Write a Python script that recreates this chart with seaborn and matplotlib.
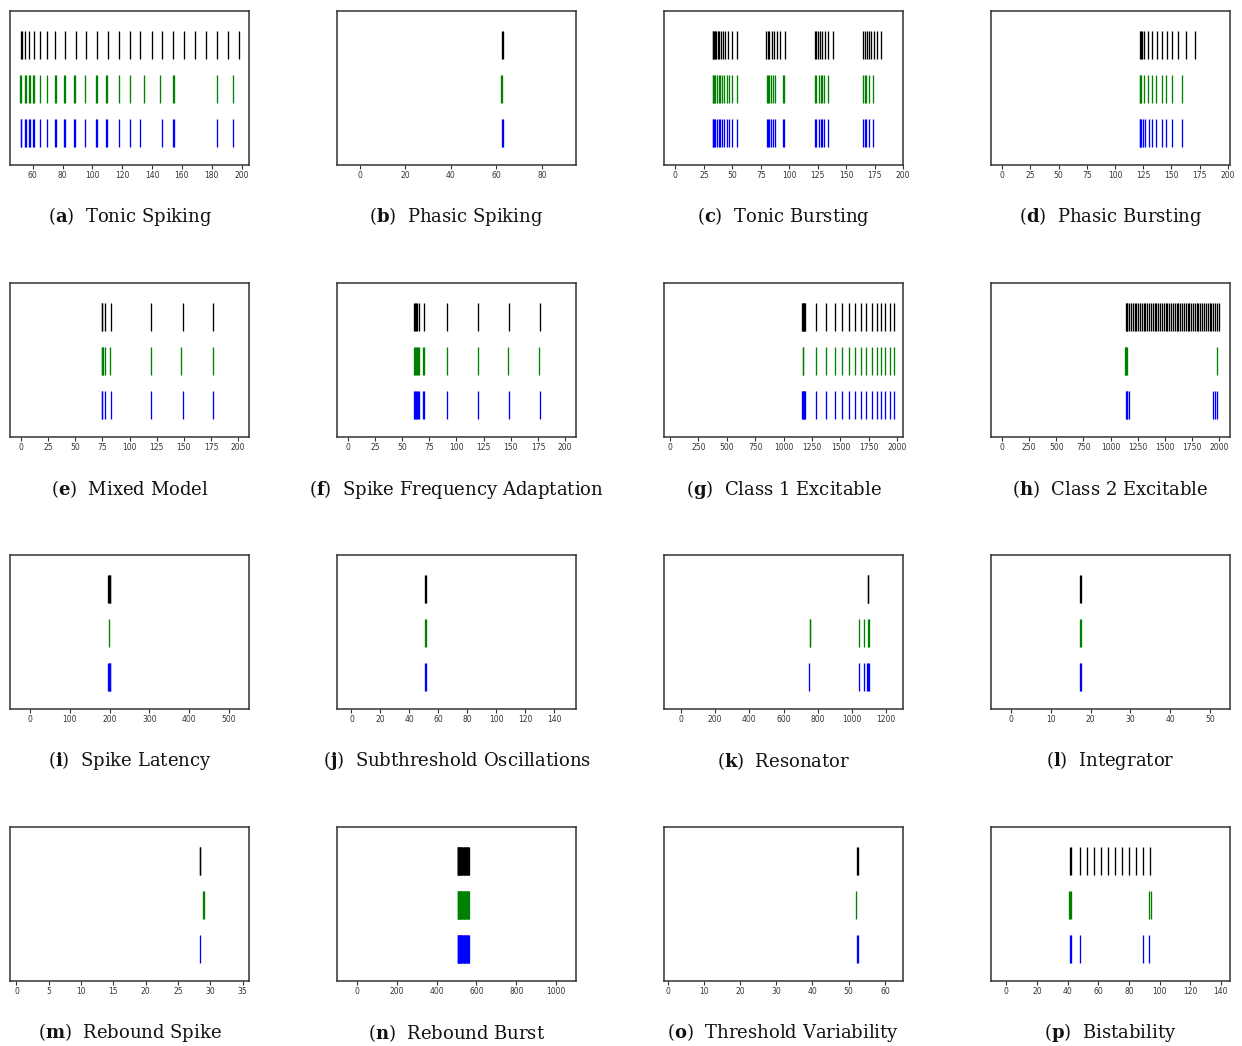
import numpy as np
import pandas as pd
import matplotlib
matplotlib.use("Agg")
import matplotlib.pyplot as plt
import seaborn as sns

# ---------------- data (spike times) ----------------
TITLES = ["Tonic Spiking", "Phasic Spiking", "Tonic Bursting", "Phasic Bursting",
          "Mixed Model", "Spike Frequency Adaptation", "Class 1 Excitable", "Class 2 Excitable",
          "Spike Latency", "Subthreshold Oscillations", "Resonator", "Integrator",
          "Rebound Spike", "Rebound Burst", "Threshold Variability", "Bistability"]
LETTERS = list("abcdefghijklmnop")

A_BLACK = [51.8, 52.5, 54.6, 57.3, 60.9, 64.7, 69.7, 75.1, 81.6, 88.8, 96.0, 103.2, 110.4,
           117.6, 125.0, 132.2, 139.7, 146.9, 154.3, 161.5, 168.9, 176.1, 183.3, 190.8, 198.0]
A_GREEN = [51.3, 51.8, 54.8, 55.5, 57.3, 58.0, 59.8, 60.7, 64.5, 69.2, 74.6, 75.3, 80.9, 81.6,
           87.7, 88.6, 95.3, 102.1, 102.8, 109.1, 110.0, 117.6, 125.0, 134.3, 145.3, 154.3,
           155.0, 183.6, 194.6]
A_BLUE = [51.8, 52.2, 54.8, 55.5, 57.3, 58.0, 59.8, 60.7, 64.5, 69.2, 74.6, 75.3, 80.9, 81.6,
          87.7, 88.6, 95.3, 102.1, 102.8, 109.1, 110.0, 117.6, 125.0, 132.2, 146.9, 154.3,
          155.0, 183.6, 194.6]

B_BLACK = [62.7, 63.0]
B_GREEN = [62.2, 62.5]
B_BLUE = [62.7, 63.0]

C_BLACK = [32.9, 33.4, 33.9, 34.9, 35.9, 37.3, 38.6, 40.3, 41.9, 43.9, 46.6, 49.9, 54.2,
           79.9, 81.2, 82.5, 84.5, 86.5, 88.9, 92.2, 96.2,
           122.5, 123.8, 125.1, 127.1, 129.1, 131.4, 134.4, 138.4,
           165.1, 166.4, 168.1, 170.1, 172.0, 174.4, 177.4, 181.0]
C_GREEN = [32.9, 33.4, 33.9, 35.2, 36.6, 37.9, 39.6, 41.3, 42.9, 45.3, 47.3, 49.9, 53.9,
           80.2, 81.2, 82.5, 83.8, 85.5, 87.8, 94.2, 95.5,
           122.5, 123.8, 125.8, 127.8, 129.1, 130.4, 133.8,
           165.1, 166.4, 167.7, 169.7, 173.4]
C_BLUE = [32.9, 33.4, 33.9, 35.2, 36.6, 37.9, 39.6, 41.3, 42.9, 45.3, 47.3, 49.9, 53.9,
          80.2, 81.2, 82.5, 83.8, 85.5, 87.8, 94.2, 95.5,
          122.5, 123.8, 125.8, 127.8, 129.1, 130.4, 133.8,
          165.1, 166.4, 167.7, 169.7, 173.4]

D_BLACK = [122.2, 122.7, 123.7, 126.1, 129.4, 133.1, 137.1, 141.5, 145.9, 150.6, 156.0, 162.7, 170.8]
D_GREEN = [122.0, 122.4, 123.4, 126.1, 129.4, 133.1, 136.8, 141.5, 145.5, 150.6, 159.0]
D_BLUE = [122.0, 122.4, 123.4, 124.7, 126.8, 130.1, 133.1, 136.8, 141.5, 145.5, 150.6, 159.0]

E_BLACK = [74.3, 74.8, 77.1, 82.6, 119.9, 148.8, 177.1]
E_GREEN = [74.3, 74.8, 75.3, 77.1, 82.3, 119.6, 147.7, 176.6]
E_BLUE = [74.3, 74.8, 77.1, 82.6, 119.9, 148.8, 177.1]

F_BLACK = [61.0, 61.5, 62.6, 64.1, 65.6, 70.0, 91.6, 120.1, 148.7, 177.3]
F_GREEN = [61.2, 61.9, 62.6, 63.7, 64.8, 65.9, 69.2, 70.0, 90.8, 119.4, 147.6, 176.2]
F_BLUE = [61.2, 61.9, 62.6, 63.7, 64.8, 65.9, 69.2, 70.0, 91.6, 120.1, 148.7, 177.3]

G_BLACK = [1161, 1166, 1171, 1176, 1181, 1185, 1288, 1374, 1448, 1517, 1574, 1627, 1677,
           1727, 1774, 1817, 1857, 1893, 1933, 1973]
G_GREEN = [1168, 1174, 1288, 1374, 1448, 1517, 1574, 1627, 1677, 1727, 1774, 1817, 1857,
           1893, 1933, 1973]
G_BLUE = [1161, 1166, 1171, 1176, 1181, 1185, 1288, 1374, 1448, 1517, 1574, 1627, 1677,
          1727, 1774, 1817, 1857, 1893, 1933, 1973]

H_BLACK = [1145, 1150, 1155, 1170, 1187, 1204, 1221, 1237, 1254, 1271, 1288, 1305, 1322,
           1338, 1355, 1372, 1389, 1406, 1423, 1440, 1456, 1473, 1490, 1507, 1524, 1541,
           1558, 1574, 1591, 1608, 1625, 1642, 1659, 1676, 1692, 1709, 1726, 1743, 1760,
           1777, 1794, 1810, 1827, 1844, 1861, 1878, 1895, 1912, 1928, 1945, 1962, 1979, 1996]
H_GREEN = [1134, 1139, 1145, 1152, 1976]
H_BLUE = [1145, 1150, 1155, 1173, 1948, 1958, 1976]

I_BLACK = [197, 199, 201, 202]
I_GREEN = [198.5]
I_BLUE = [197, 199, 201, 202]

J_BLACK = [51.0, 51.3]
J_GREEN = [51.0, 51.3]
J_BLUE = [51.0, 51.3]

K_BLACK = [1093, 1097]
K_GREEN = [753, 757, 1044, 1073, 1096, 1100]
K_BLUE = [751, 1044, 1073, 1091, 1096, 1100]

L_BLACK = [17.35, 17.5]
L_GREEN = [17.35, 17.5]
L_BLUE = [17.35, 17.5]

M_BLACK = [28.35, 28.45]
M_GREEN = [28.95, 29.05]
M_BLUE = [28.4]

N_BLACK = [506, 507, 508, 510, 512, 514, 516, 518, 521, 524, 527, 530, 533, 536, 539, 542,
           545, 548, 551, 554, 557, 560, 563]
N_GREEN = [507, 508, 510, 512, 514, 516, 518, 521, 524, 527, 530, 533, 536, 539, 542, 545,
           548, 551, 554, 557, 560, 563]
N_BLUE = [507, 508, 510, 512, 514, 516, 518, 521, 524, 527, 530, 533, 536, 539, 542, 545,
          548, 551, 554, 557, 560, 563]

O_BLACK = [52.4, 52.6]
O_GREEN = [51.9]
O_BLUE = [52.4, 52.6]

P_BLACK = [41.7, 42.2, 48.1, 52.6, 57.3, 62.0, 66.4, 71.1, 75.6, 80.0, 84.7, 89.4, 93.6]
P_GREEN = [41.2, 41.7, 42.2, 93.3, 94.3]
P_BLUE = [41.7, 42.2, 48.1, 89.4, 93.3]

SPIKES = [
    (A_BLACK, A_GREEN, A_BLUE), (B_BLACK, B_GREEN, B_BLUE), (C_BLACK, C_GREEN, C_BLUE),
    (D_BLACK, D_GREEN, D_BLUE), (E_BLACK, E_GREEN, E_BLUE), (F_BLACK, F_GREEN, F_BLUE),
    (G_BLACK, G_GREEN, G_BLUE), (H_BLACK, H_GREEN, H_BLUE), (I_BLACK, I_GREEN, I_BLUE),
    (J_BLACK, J_GREEN, J_BLUE), (K_BLACK, K_GREEN, K_BLUE), (L_BLACK, L_GREEN, L_BLUE),
    (M_BLACK, M_GREEN, M_BLUE), (N_BLACK, N_GREEN, N_BLUE), (O_BLACK, O_GREEN, O_BLUE),
    (P_BLACK, P_GREEN, P_BLUE),
]

# ---------------- layout / style ----------------
XLIMS = [(44.7, 205), (-10, 95), (-10, 200), (-10, 202),
         (-10, 210), (-10, 210), (-53, 2050), (-100, 2100),
         (-50, 550), (-10, 155), (-100, 1300), (-5, 55),
         (-1, 36), (-100, 1100), (-1, 65), (-10, 146)]
TICK_STEP = [20, 20, 25, 25, 25, 25, 250, 250, 100, 20, 200, 10, 5, 200, 10, 20]
TICK_MIN = [60, 0, 0, 0, 0, 0, 0, 0, 0, 0, 0, 0, 0, 0, 0, 0]

ROW_NAMES = ["black", "green", "blue"]
ROW_POS = {"black": 2, "green": 1, "blue": 0}
PALETTE = {"black": "#000000", "green": "#008000", "blue": "#0000ff"}

sns.set_theme(style="ticks")
plt.rcParams["font.family"] = ["DejaVu Sans"]
plt.rcParams["mathtext.fontset"] = "dejavuserif"

W, H = 1242, 1046
fig = plt.figure(figsize=(W / 100, H / 100), dpi=100)
fig.patch.set_facecolor("white")

COL_X = [10, 337, 664, 991]
ROW_Y = [11, 283, 555, 827]
CAP_Y = [217, 489, 761, 1033]
AX_W, AX_H = 239, 154

for i, (title, letter, rows) in enumerate(zip(TITLES, LETTERS, SPIKES)):
    r, c = divmod(i, 4)
    ax = fig.add_axes([COL_X[c] / W, 1 - (ROW_Y[r] + AX_H) / H, AX_W / W, AX_H / H])
    frames = []
    for name, times in zip(ROW_NAMES, rows):
        frames.append(pd.DataFrame({"t": times, "row": ROW_POS[name], "neuron": name}))
    df = pd.concat(frames, ignore_index=True)
    sns.scatterplot(data=df, x="t", y="row", hue="neuron", palette=PALETTE,
                    marker="|", s=410, linewidth=0.95, legend=False, ax=ax)
    ax.set_xlim(*XLIMS[i])
    ax.set_ylim(-0.73, 2.77)
    ax.set_yticks([])
    ax.set_xlabel("")
    ax.set_ylabel("")
    lo = TICK_MIN[i]
    hi = XLIMS[i][1]
    ax.set_xticks(np.arange(lo, hi + 1e-9, TICK_STEP[i]))
    ax.tick_params(axis="x", labelsize=5.5, length=3, width=0.8, pad=1.5,
                   colors="#333333")
    for sp in ax.spines.values():
        sp.set_visible(True)
        sp.set_linewidth(1.1)
        sp.set_color("#333333")
    fig.text((COL_X[c] + AX_W / 2) / W, 1 - CAP_Y[r] / H,
             r"($\mathbf{" + letter + r"}$)  " + title,
             ha="center", va="center", fontsize=13, family="DejaVu Serif",
             color="#111111")

fig.savefig("out.png", dpi=100, facecolor="white")
